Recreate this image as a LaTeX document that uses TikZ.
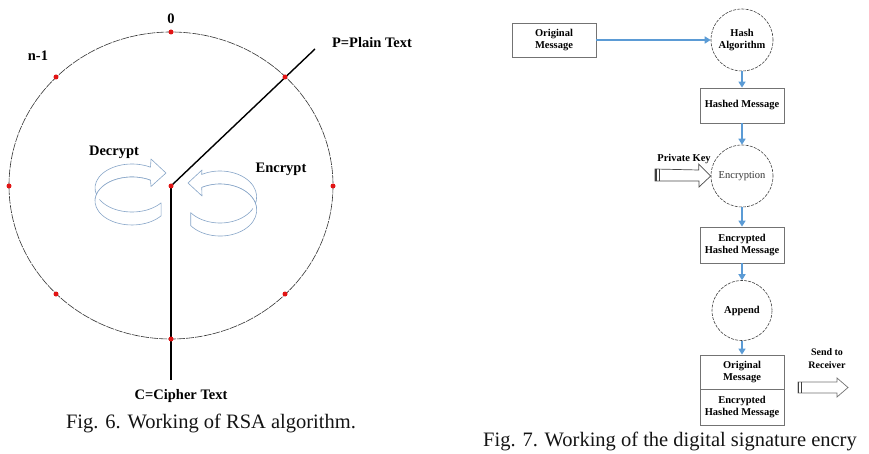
\documentclass[tikz,border=0pt]{standalone}
\usepackage{fontspec}
\setmainfont{Liberation Serif}
\usetikzlibrary{arrows.meta}
\definecolor{flowblue}{RGB}{91,155,213}
\definecolor{ringcol}{RGB}{135,165,200}
\definecolor{dotred}{RGB}{225,20,20}
\tikzset{
  lbl/.style={font=\fontsize{14.5}{15}\selectfont\bfseries, inner sep=0pt},
  fl/.style={font=\fontsize{10.5}{12.5}\selectfont\bfseries, align=center},
  box/.style={draw=black!55, fill=white, line width=0.8pt, minimum width=84pt, minimum height=35pt, inner sep=1pt, fl},
  circ/.style={circle, draw=black!75, line width=0.6pt, dash pattern=on 3pt off 1.2pt, minimum size=62pt, inner sep=0pt, fl},
  flow/.style={draw=flowblue, line width=1.6pt, -{Triangle[length=6pt,width=7pt]}},
  dotn/.style={circle, fill=dotred, inner sep=0pt, minimum size=5pt},
  ringarrow/.style={draw=ringcol, fill=white, line width=0.6pt, line join=round},
  blockarrow/.style={draw=black!70, fill=white, line width=0.7pt},
  captxt/.style={font=\fontsize{20.5}{22}\selectfont, text=black!92, inner sep=0pt}
}
\begin{document}
\begin{tikzpicture}[x=1pt,y=-1pt]
\useasboundingbox (0,0) rectangle (869,454);
% ---------- Fig. 6 ----------
\draw[black!80, line width=0.6pt, dash pattern=on 8pt off 1pt] (171,185.5) ellipse [x radius=162, y radius=153.5];
\coordinate (ctr) at (171,186);
\coordinate (pend) at (315,49);
\coordinate (cend) at (171,380);
\draw[line width=1.4pt] (ctr) -- (pend);
\draw[line width=1.4pt] (ctr) -- (cend);
\node[dotn] (d0) at (171,32) {};
\node[dotn] (d1) at (285,77) {};
\node[dotn] (d2) at (333,186) {};
\node[dotn] (d3) at (285,294) {};
\node[dotn] (d4) at (171,339) {};
\node[dotn] (d5) at (56,294) {};
\node[dotn] (d6) at (9,186) {};
\node[dotn] (d7) at (56,77) {};
\node[dotn] (dc) at (ctr) {};
% rotating arrows
\draw[ringarrow] (132,188) ++(38:37 and 24)
  arc[start angle=38, end angle=300, x radius=37, y radius=24]
  -- (151,159) -- (166,173) -- (151,186.5) -- ++(-0.5,-6.3)
  arc[start angle=300, end angle=38, x radius=37, y radius=24] -- cycle;
\draw[ringarrow] (132,188) ++(300:37 and 24) ++(0,13)
  arc[start angle=300, end angle=180, x radius=37, y radius=24];
\draw[ringarrow] (220,197) ++(143:36.7 and 26)
  arc[start angle=143, end angle=-120, x radius=36.7, y radius=26]
  -- (202,170) -- (188,183) -- (202,196) -- ++(-0.3,-8.5)
  arc[start angle=-120, end angle=143, x radius=36.7, y radius=26] -- cycle;
\draw[ringarrow] (220,197) ++(-120:36.7 and 26) ++(0,13)
  arc[start angle=-120, end angle=0, x radius=36.7, y radius=26];
% labels
\node[lbl] (l0) at (171,19) {0};
\node[lbl] (ln) at (38,56) {n-1};
\node[lbl] (lp) at (372,43) {P=Plain Text};
\node[lbl] (ld) at (114,152) {Decrypt};
\node[lbl] (le) at (281,169) {Encrypt};
\node[lbl] (lc) at (181,396) {C=Cipher Text};
\node[captxt] (c6) at (211,423) {Fig. 6. Working of RSA algorithm.};
% ---------- Fig. 7 ----------
\node[box, minimum height=34pt] (om) at (554,40) {Original\\Message};
\node[circ] (ha) at (742,40) {Hash\\Algorithm};
\node[box] (hm) at (742,105.5) {Hashed Message};
\node[circ, font=\fontsize{10.5}{12.5}\selectfont, text=black!80] (en) at (742,176) {Encryption};
\node[box, minimum height=36pt] (ehm) at (742,245) {Encrypted\\Hashed Message};
\node[circ, minimum size=60pt] (ap) at (742,310.5) {Append};
\node[box, minimum height=34pt] (fo) at (742,372) {Original\\Message};
\node[box, minimum height=36pt] (fe) at (742,407) {Encrypted\\Hashed Message};
\draw[flow] (om) -- (ha);
\draw[flow] (ha) -- (hm);
\draw[flow] (hm) -- (en);
\draw[flow] (en) -- (ehm);
\draw[flow] (ehm) -- (ap);
\draw[flow] (ap) -- (fo);
% private key arrow
\draw[blockarrow] (en.west) -- ++(-12,-12) -- ++(0,6) -- (655,169) -- (655,181) -- (699,181) -- (699,187) -- cycle;
\draw[black!75, line width=1.3pt] (656,169) -- (656,181);
\draw[black!75, line width=1.3pt] (659.5,169) -- (659.5,181);
\node[fl, inner sep=0pt] (pk) at (684,159) {Private Key};
% send arrow
\coordinate (stip) at (848,387.5);
\draw[blockarrow, draw=black!55] (stip) -- (837,378) -- (837,382) -- (798,382) -- (798,393) -- (837,393) -- (837,397) -- cycle;
\draw[black!75, line width=0.8pt] (798.5,382) -- (798.5,393);
\draw[black!75, line width=0.8pt] (801.5,382) -- (801.5,393);
\node[fl, inner sep=0pt, font=\fontsize{10}{12.5}\selectfont\bfseries] (sr) at (827,358.5) {Send to\\Receiver};
\node[captxt, anchor=west] (c7) at (483,441) {Fig. 7. Working of the digital signature encry};
\end{tikzpicture}
\end{document}
